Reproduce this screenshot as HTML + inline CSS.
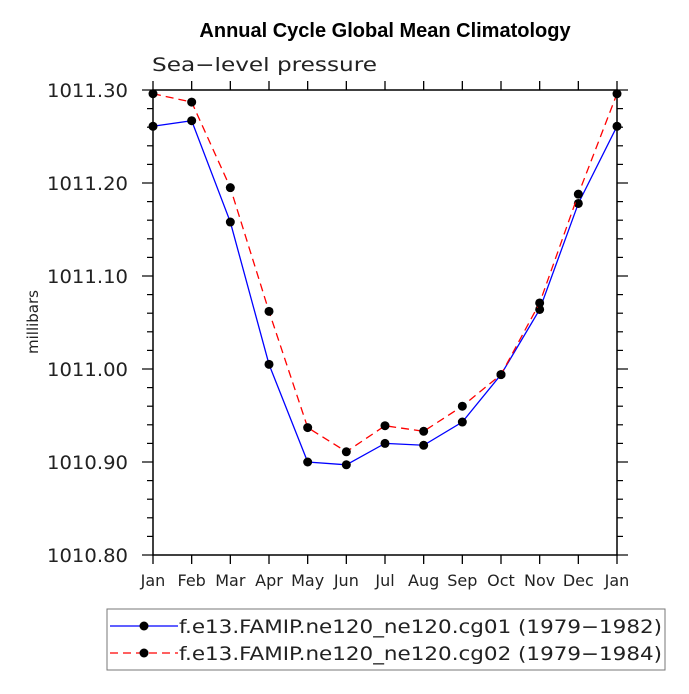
<!DOCTYPE html>
<html><head><meta charset="utf-8"><style>
body{margin:0;background:#fff}
.lib{font-family:"Liberation Sans",sans-serif}
.dv{font-family:"DejaVu Sans",sans-serif}
</style></head><body>
<svg id="c" width="689" height="689" xmlns="http://www.w3.org/2000/svg">
<text class="lib" x="385" y="37" text-anchor="middle" font-size="20" font-weight="bold">Annual Cycle Global Mean Climatology</text>
<text class="dv" x="152" y="71" font-size="19" fill="#222" textLength="225" lengthAdjust="spacingAndGlyphs">Sea−level pressure</text>
<text class="dv" x="38" y="322" font-size="15" text-anchor="middle" transform="rotate(-90 38 322)" fill="#222">millibars</text>
<g id="axes"></g>
<g id="series"></g>
<rect x="107" y="609" width="558" height="61" fill="none" stroke="#777"/>
<g>
<line x1="110" y1="626" x2="178" y2="626" stroke="#0000ff" stroke-width="1.3"/><circle cx="144" cy="626" r="4.5"/>
<text class="dv" x="179" y="633" font-size="19" fill="#222" textLength="483" lengthAdjust="spacingAndGlyphs">f.e13.FAMIP.ne120_ne120.cg01 (1979−1982)</text></g>
<g>
<line x1="110" y1="653" x2="178" y2="653" stroke="#ff0000" stroke-width="1.3" stroke-dasharray="8,5"/><circle cx="144" cy="653" r="4.5"/>
<text class="dv" x="179" y="660" font-size="19" fill="#222" textLength="483" lengthAdjust="spacingAndGlyphs">f.e13.FAMIP.ne120_ne120.cg02 (1979−1984)</text></g>
</svg>
<script>
const months=["Jan","Feb","Mar","Apr","May","Jun","Jul","Aug","Sep","Oct","Nov","Dec","Jan"];
const cg01=[1011.261,1011.267,1011.158,1011.005,1010.900,1010.897,1010.920,1010.918,1010.943,1010.994,1011.064,1011.178,1011.261];
const cg02=[1011.296,1011.287,1011.195,1011.062,1010.937,1010.911,1010.939,1010.933,1010.960,1010.994,1011.071,1011.188,1011.296];
const yTicks=[1010.80,1010.90,1011.00,1011.10,1011.20,1011.30];
const L=153,R=617,T=90,B=555,ymin=1010.8,ymax=1011.3;
const X=i=>L+(R-L)*i/(months.length-1);
const Y=v=>B-(v-ymin)/(ymax-ymin)*(B-T);
const NS="http://www.w3.org/2000/svg";
function mk(t,a,p){const e=document.createElementNS(NS,t);for(const k in a)e.setAttribute(k,a[k]);p.appendChild(e);return e;}
const ax=document.getElementById('axes'),se=document.getElementById('series');
const fr=mk('rect',{x:L,y:T,width:R-L,height:B-T,fill:'none',stroke:'#000','stroke-width':1.5},ax);


months.forEach((m,i)=>{
 mk('line',{x1:X(i),y1:B,x2:X(i),y2:B+9,stroke:'#000','stroke-width':1.3},ax);
 mk('line',{x1:X(i),y1:T,x2:X(i),y2:T-9,stroke:'#000','stroke-width':1.3},ax);
 const t=mk('text',{x:X(i),y:B+31,'text-anchor':'middle','font-size':16,fill:'#222','class':'dv'},ax);t.textContent=m;
 
 
});
for(let v=ymin;v<=ymax+1e-9;v+=0.02){
 const maj=Math.abs(Math.round(v*10)/10-v)<1e-6;
 const len=maj?11:6;
 mk('line',{x1:L-len,y1:Y(v),x2:L,y2:Y(v),stroke:'#000','stroke-width':1.2},ax);
 mk('line',{x1:R,y1:Y(v),x2:R+len,y2:Y(v),stroke:'#000','stroke-width':1.2},ax);
}
yTicks.forEach(v=>{
 const t=mk('text',{x:128,y:Y(v)+7,'text-anchor':'end','font-size':19,fill:'#222','class':'dv',textLength:81,lengthAdjust:'spacingAndGlyphs'},ax);t.textContent=v.toFixed(2);
 
 
});
function draw(arr,col,dash,name){
 const p=mk('polyline',{points:arr.map((v,i)=>X(i)+','+Y(v)).join(' '),fill:'none',stroke:col,'stroke-width':1.3,'stroke-dasharray':dash},se);
 
 
 arr.forEach((v,i)=>{const c=mk('circle',{cx:X(i),cy:Y(v),r:4.5,fill:'#000'},se);
 
 });
}
draw(cg01,'#0000ff','none','cg01');
draw(cg02,'#ff0000','8,5','cg02');
</script>
</body></html>
